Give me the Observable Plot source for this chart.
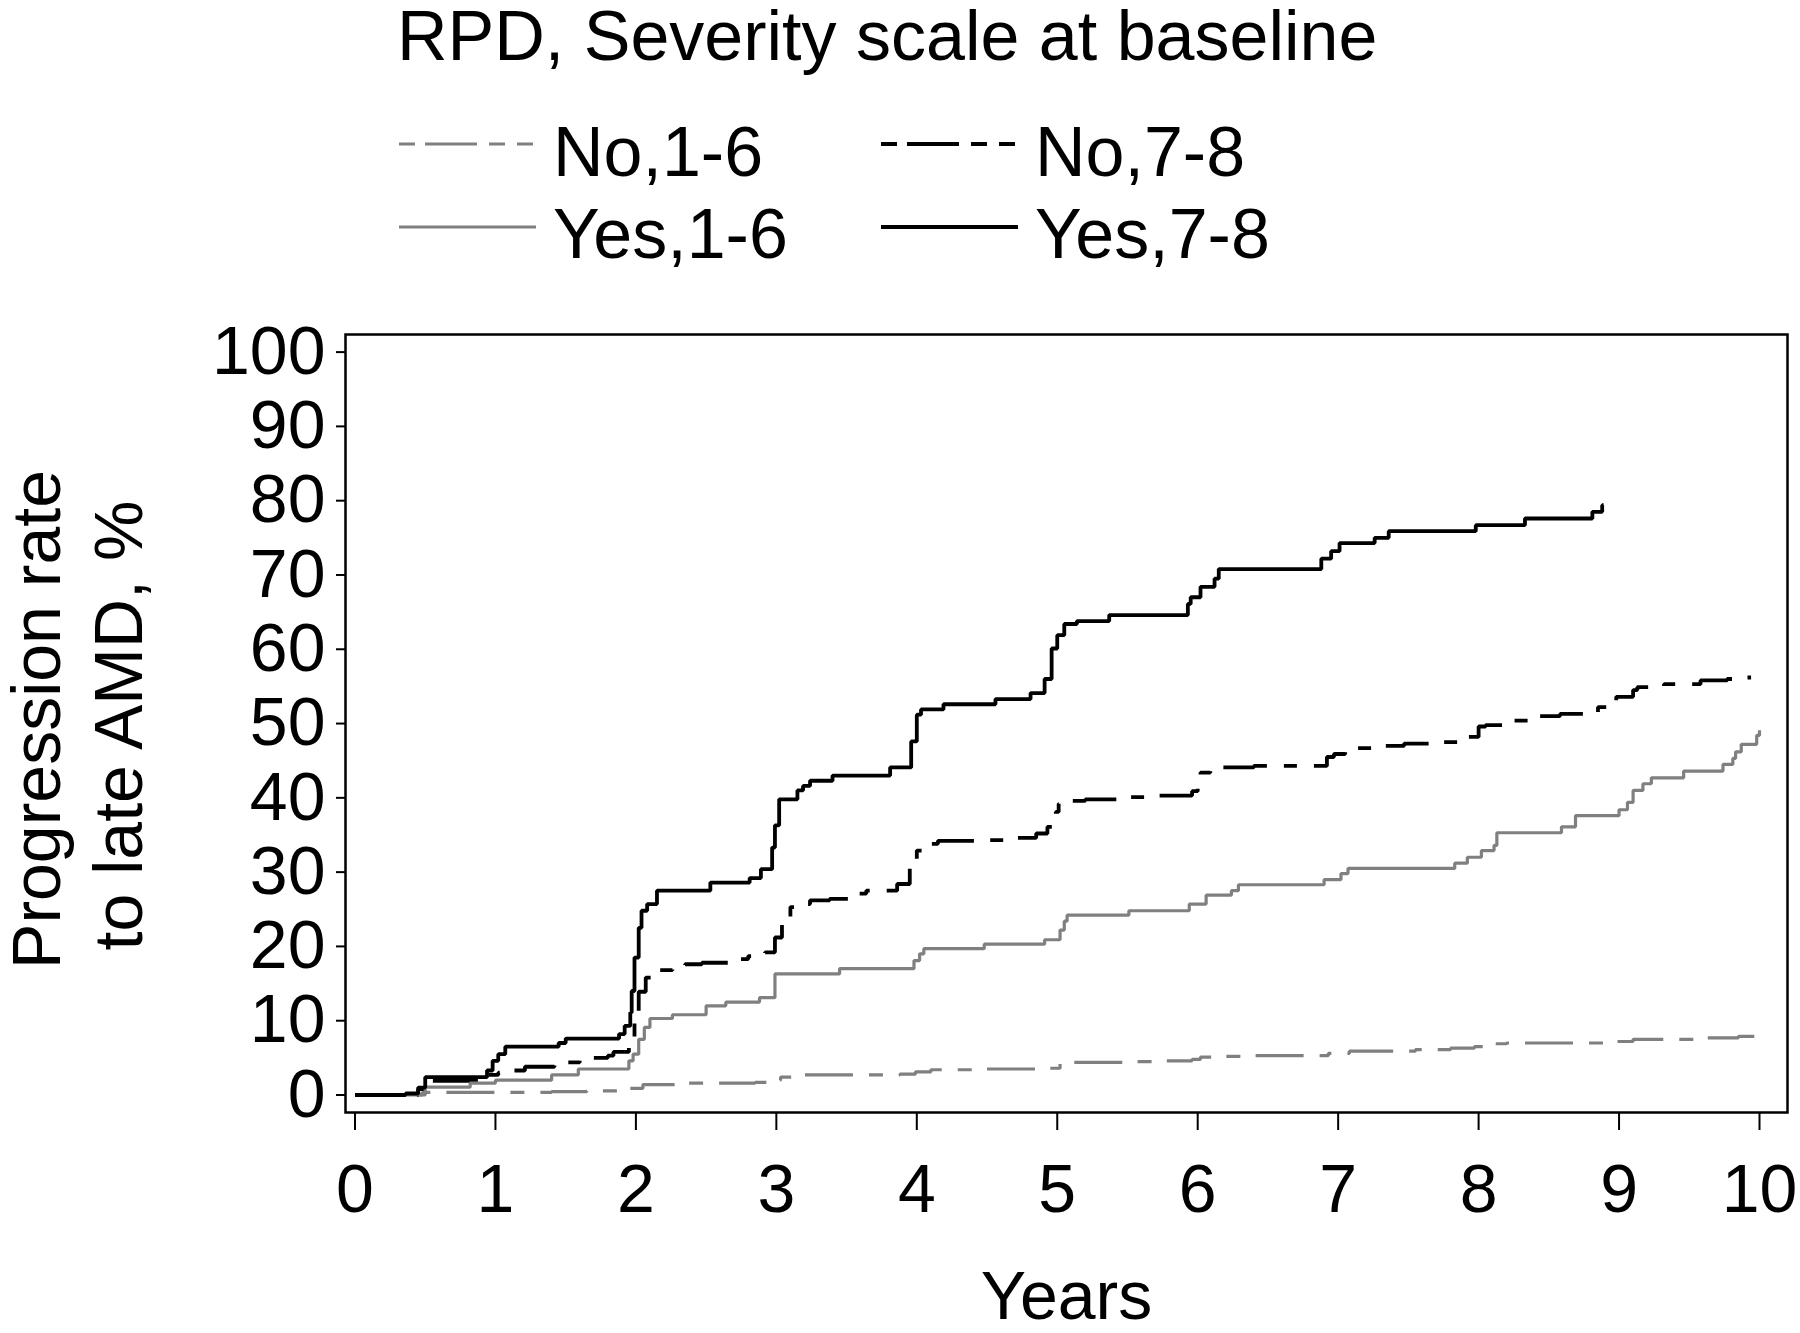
<!DOCTYPE html>
<html>
<head>
<meta charset="utf-8">
<script src="https://cdn.jsdelivr.net/npm/d3@7"></script>
<script src="https://cdn.jsdelivr.net/npm/@observablehq/plot@0.6"></script>
<style>
  html, body { margin: 0; padding: 0; background: #fff; }
  #chart { width: 1800px; height: 1333px; font-family: "Liberation Sans", Arial, Helvetica, sans-serif; }
  #chart svg { display: block; }
</style>
</head>
<body>
<div id="chart"></div>
<script>
// ---------------- data ----------------
const legendTitle = "RPD, Severity scale at baseline";
const seriesNames = ["No,1-6", "No,7-8", "Yes,1-6", "Yes,7-8"];
const xTicks = [0, 1, 2, 3, 4, 5, 6, 7, 8, 9, 10];
const yTicks = [0, 10, 20, 30, 40, 50, 60, 70, 80, 90, 100];
const xLabel = "Years";
const yLabelLines = ["Progression rate", "to late AMD, %"];

// No RPD, severity 1-6 (grey dashed)
const no16Years = [0, 0.48, 1.4, 1.65, 1.95, 2.05, 2.3, 2.85, 2.98, 3.03, 3.2, 3.88, 3.99, 4.1, 4.4, 4.85, 5.02, 5.1, 5.5, 5.75, 5.96, 6.02, 6.15, 6.4, 6.93, 7.08, 7.55, 7.8, 7.97, 8.03, 8.2, 8.9, 9.1, 9.6, 9.85, 9.97, 10.0];
const no16Pct   = [0, 0.35, 0.45, 0.55, 0.9, 1.4, 1.6, 1.7, 2.0, 2.4, 2.7, 2.8, 3.1, 3.4, 3.5, 3.6, 4.2, 4.4, 4.5, 4.6, 4.8, 5.1, 5.2, 5.3, 5.6, 5.9, 6.1, 6.3, 6.5, 6.9, 7.0, 7.2, 7.5, 7.7, 7.9, 8.2, 8.2];

// No RPD, severity 7-8 (black dashed)
const no78Years = [0, 0.45, 0.5, 0.95, 1.02, 1.1, 1.21, 1.42, 1.5, 1.6, 1.8, 1.84, 1.95, 1.99, 2.02, 2.07, 2.14, 2.26, 2.35, 2.47, 2.66, 2.8, 2.92, 2.99, 3.04, 3.1, 3.2, 3.24, 3.38, 3.54, 3.64, 3.86, 3.95, 4.0, 4.06, 4.15, 4.5, 4.69, 4.85, 4.93, 4.99, 5.01, 5.07, 5.2, 5.45, 5.7, 5.96, 6.0, 6.02, 6.09, 6.4, 6.92, 6.97, 7.05, 7.25, 7.47, 7.7, 7.93, 8.0, 8.05, 8.22, 8.42, 8.58, 8.85, 8.98, 9.1, 9.13, 9.32, 9.58, 9.77, 9.88, 9.94];
const no78Pct   = [0, 0.8, 1.9, 2.7, 3.0, 3.3, 3.8, 4.0, 4.4, 5.0, 5.3, 5.8, 6.7, 10.0, 13.9, 15.8, 16.8, 17.4, 17.6, 17.8, 18.3, 18.7, 19.2, 21.2, 23.9, 25.3, 25.7, 26.2, 26.4, 27.1, 27.5, 28.4, 31.1, 32.9, 33.8, 34.2, 34.3, 34.6, 35.2, 36.1, 38.1, 39.2, 39.6, 39.8, 40.1, 40.3, 40.9, 42.3, 43.4, 44.1, 44.3, 45.5, 45.9, 46.7, 47.0, 47.3, 47.5, 48.2, 49.6, 49.8, 50.4, 51.0, 51.3, 52.2, 53.6, 54.5, 54.9, 55.3, 55.8, 56.0, 56.2, 56.2];

// RPD, severity 1-6 (grey solid)
const yes16Years = [0, 0.5, 0.82, 1.0, 1.4, 1.59, 1.95, 1.98, 2.02, 2.06, 2.1, 2.26, 2.5, 2.64, 2.88, 2.99, 3.45, 3.98, 4.02, 4.05, 4.48, 4.91, 5.02, 5.05, 5.07, 5.51, 5.94, 6.06, 6.24, 6.29, 6.9, 7.02, 7.07, 7.83, 7.92, 8.02, 8.11, 8.13, 8.59, 8.69, 9.0, 9.06, 9.1, 9.17, 9.23, 9.46, 9.74, 9.81, 9.83, 9.87, 9.98, 10.0];
const yes16Pct   = [0, 1.05, 1.6, 2.0, 2.7, 3.5, 4.6, 5.5, 7.5, 9.1, 10.3, 10.8, 12.0, 12.5, 13.1, 16.3, 17.0, 18.1, 19.0, 19.7, 20.3, 20.9, 22.2, 23.4, 24.2, 24.8, 25.7, 26.9, 27.5, 28.3, 29.0, 29.8, 30.5, 31.2, 32.0, 32.9, 33.6, 35.3, 36.1, 37.6, 38.4, 39.4, 41.0, 41.9, 42.7, 43.6, 44.5, 45.3, 46.2, 47.2, 48.4, 49.1];

// RPD, severity 7-8 (black solid)
const yes78Years = [0, 0.36, 0.45, 0.5, 0.94, 0.98, 1.02, 1.07, 1.45, 1.5, 1.88, 1.92, 1.96, 1.97, 1.99, 2.02, 2.04, 2.08, 2.15, 2.53, 2.81, 2.89, 2.97, 2.99, 3.02, 3.15, 3.19, 3.24, 3.4, 3.81, 3.96, 4.0, 4.03, 4.19, 4.56, 4.81, 4.91, 4.96, 5.0, 5.05, 5.14, 5.37, 5.93, 5.95, 6.02, 6.12, 6.15, 6.88, 6.95, 7.01, 7.26, 7.36, 7.98, 8.33, 8.81, 8.88, 8.89];
const yes78Pct   = [0, 0.2, 1.0, 2.4, 3.3, 4.6, 5.5, 6.5, 7.0, 7.6, 8.2, 9.3, 11.1, 14.0, 18.5, 22.5, 24.8, 25.7, 27.5, 28.6, 29.2, 30.4, 33.3, 36.3, 39.8, 41.0, 41.6, 42.3, 43.0, 44.1, 47.6, 51.2, 51.9, 52.6, 53.3, 54.1, 56.0, 60.1, 61.9, 63.4, 63.8, 64.6, 66.1, 67.0, 68.4, 69.5, 70.8, 72.2, 73.2, 74.3, 75.0, 75.9, 76.7, 77.6, 78.5, 79.4, 79.4];

// ---------------- build table ----------------
const seriesYears = [no16Years, no78Years, yes16Years, yes78Years];
const seriesPct = [no16Pct, no78Pct, yes16Pct, yes78Pct];
const rows = [];
seriesNames.forEach((name, i) => {
  seriesYears[i].forEach((t, j) => rows.push({series: name, year: t, pct: seriesPct[i][j]}));
});

const GREY = "#808080";
const styles = {
  "No,1-6":  {stroke: GREY,    strokeWidth: 3.2, dash: "48,16,14,16"},
  "No,7-8":  {stroke: "#000",  strokeWidth: 3.8, dash: "45,17,13,17"},
  "Yes,1-6": {stroke: GREY,    strokeWidth: 3.2, dash: null},
  "Yes,7-8": {stroke: "#000",  strokeWidth: 3.8, dash: null}
};
const FONT = "'Liberation Sans', Arial, Helvetica, sans-serif";

// ---------------- header: title + legend ----------------
const chart = d3.select("#chart");
const header = chart.append("svg")
  .attr("width", 1800).attr("height", 290)
  .attr("font-family", FONT)
  .style("overflow", "visible");
header.append("text")
  .attr("x", 397).attr("y", 60)
  .attr("font-size", 70)
  .attr("fill", "#000")
  .text(legendTitle);
const legendPos = [
  {lx: 399, tx: 553, ly: 144, ty: 176},
  {lx: 881, tx: 1035, ly: 144, ty: 176},
  {lx: 399, tx: 553, ly: 227, ty: 258},
  {lx: 881, tx: 1035, ly: 227, ty: 258}
];
seriesNames.forEach((name, i) => {
  const p = legendPos[i], s = styles[name];
  header.append("line")
    .attr("x1", p.lx).attr("x2", p.lx + 137)
    .attr("y1", p.ly).attr("y2", p.ly)
    .attr("stroke", s.stroke).attr("stroke-width", s.strokeWidth)
    .attr("stroke-dasharray", s.dash ? "16,10,52,12,16,12" : null);
  header.append("text")
    .attr("x", p.tx).attr("y", p.ty)
    .attr("font-size", 70).attr("fill", "#000")
    .text(name);
});

// ---------------- plot ----------------
const lineMarks = seriesNames.map(name => Plot.line(rows.filter(d => d.series === name), {
  x: "year", y: "pct", curve: "step-after",
  stroke: styles[name].stroke,
  strokeWidth: styles[name].strokeWidth,
  strokeDasharray: styles[name].dash,
  strokeLinejoin: "miter", strokeLinecap: "butt"
}));

const plot = Plot.plot({
  width: 1800,
  height: 1043,
  marginTop: 44,
  marginBottom: 221,
  marginLeft: 345,
  marginRight: 13,
  style: {fontFamily: FONT, fontSize: "68px", background: "white", color: "black", overflow: "visible"},
  x: {domain: [0, 10], insetLeft: 9.5, insetRight: 28},
  y: {domain: [0, 100], insetTop: 17.6, insetBottom: 17.5},
  marks: [
    ...lineMarks,
    Plot.frame({stroke: "black", strokeWidth: 2.5}),
    Plot.axisX({ticks: xTicks, tickSize: 18, tickPadding: 33, tickFormat: d3.format("d"), fontSize: 68, strokeWidth: 2, label: null}),
    Plot.axisY({ticks: yTicks, tickSize: 9, tickPadding: 11, tickFormat: d3.format("d"), fontSize: 68, strokeWidth: 2, label: null}),
    Plot.text([xLabel], {frameAnchor: "bottom", lineAnchor: "bottom", textAnchor: "middle", dy: 206, fontSize: 68, fill: "black", text: d => d}),
    Plot.text([yLabelLines[0]], {frameAnchor: "left", lineAnchor: "bottom", textAnchor: "middle", rotate: -90, dx: -286, dy: -4, fontSize: 68, fill: "black", text: d => d}),
    Plot.text([yLabelLines[1]], {frameAnchor: "left", lineAnchor: "bottom", textAnchor: "middle", rotate: -90, dx: -204, dy: 2, fontSize: 68, fill: "black", text: d => d})
  ]
});
chart.node().appendChild(plot);
</script>
</body>
</html>
